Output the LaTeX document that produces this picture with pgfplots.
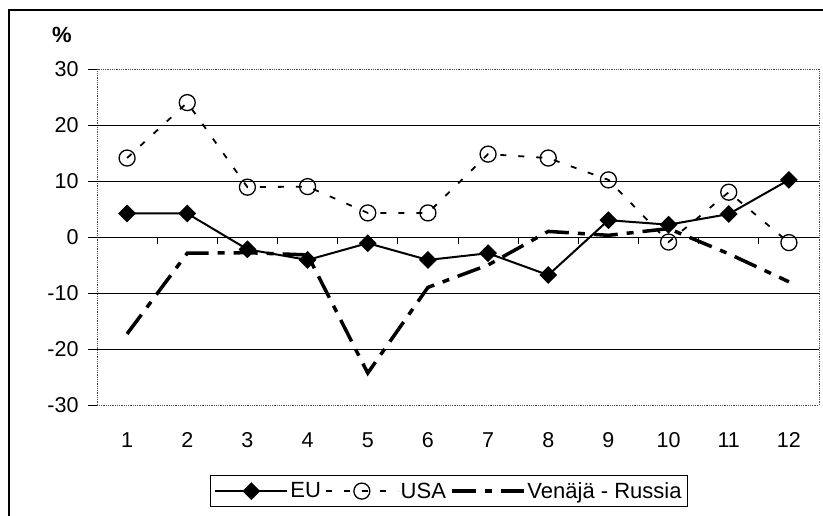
\documentclass[border=0pt]{standalone}
\usepackage{pgfplots}
\pgfplotsset{compat=1.18}
\usepackage{fontspec}
\setmainfont{Liberation Sans}

\begin{document}
\begin{tikzpicture}[x=1pt,y=1pt]
\useasboundingbox (0,0) rectangle (823,515);
\clip (0,0) rectangle (823,515);
\draw[line width=1.6pt] (9,-10) -- (9,505) -- (840,505);
\node[font=\bfseries\fontsize{22}{24}\selectfont] at (62,480) {\%};
\begin{axis}[
  at={(97pt,110pt)}, anchor=south west,
  scale only axis, width=722pt, height=336pt,
  xmin=0.5, xmax=12.5, ymin=-30, ymax=30,
  xtick={1,2,3,4,5,6,7,8,9,10,11,12},
  xticklabels={1,2,3,4,5,6,7,8,9,10,11,12},
  ytick={-30,-20,-10,0,10,20,30},
  yticklabels={-30,-20,-10,0,10,20,30},
  xtick style={draw=none},
  ytick style={black, line width=0.8pt},
  ytick pos=left, tick align=outside, major tick length=9pt,
  tick label style={font=\fontsize{21.5}{25}\selectfont},
  xticklabel style={yshift=-15pt},
  yticklabel style={xshift=-6pt},
  axis line style={black!70, densely dotted, line width=0.8pt},
  clip=false,
  legend columns=3,
  legend style={at={(0.1565,-0.2083)}, anchor=north west, draw=black, line width=0.8pt,
    font=\fontsize{22}{26}\selectfont, inner xsep=4pt, inner ysep=5pt,
    /tikz/every even column/.style={column sep=2pt}},
  legend image code/.code={
    \draw[mark repeat=2, mark phase=2, #1] plot coordinates {(0pt,0pt) (36pt,0pt) (72pt,0pt)};
  },
]
% grid lines and ticks on the zero line
\pgfplotsinvokeforeach{-20,-10,0,10,20}{
  \draw[black, line width=0.8pt] (axis cs:0.5,#1) -- (axis cs:12.5,#1);
}
\pgfplotsinvokeforeach{1.5,2.5,3.5,4.5,5.5,6.5,7.5,8.5,9.5,10.5,11.5}{
  \draw[black, line width=0.8pt] (axis cs:#1,0) -- ([yshift=-7pt]axis cs:#1,0);
}

\addplot[black, line width=2pt, mark=square*, mark size=5.3pt, mark options={rotate=45, solid}]
  coordinates {(1,4.2) (2,4.2) (3,-2.2) (4,-4.1) (5,-1.1) (6,-4.1) (7,-2.9) (8,-6.8) (9,3.0) (10,2.2) (11,4.1) (12,10.2)};
\addlegendentry{EU}
\addplot[black, line width=1.8pt, dash pattern=on 6pt off 12pt, mark=o, mark size=8pt, mark options={solid, line width=1.3pt}]
  coordinates {(1,14.1) (2,24.0) (3,8.9) (4,9.0) (5,4.3) (6,4.3) (7,14.8) (8,14.1) (9,10.2) (10,-0.9) (11,8.0) (12,-1.0)};
\addlegendentry{USA}
\addplot[black, line width=3.5pt, dash pattern=on 24pt off 9pt on 7pt off 9pt]
  coordinates {(1,-17.3) (2,-2.9) (3,-2.8) (4,-3.2) (5,-24.3) (6,-9.0) (7,-5.0) (8,1.0) (9,0.3) (10,1.5) (11,-3.0) (12,-8.0)};
\addlegendentry{Venäjä - Russia}
\end{axis}
\end{tikzpicture}
\end{document}
